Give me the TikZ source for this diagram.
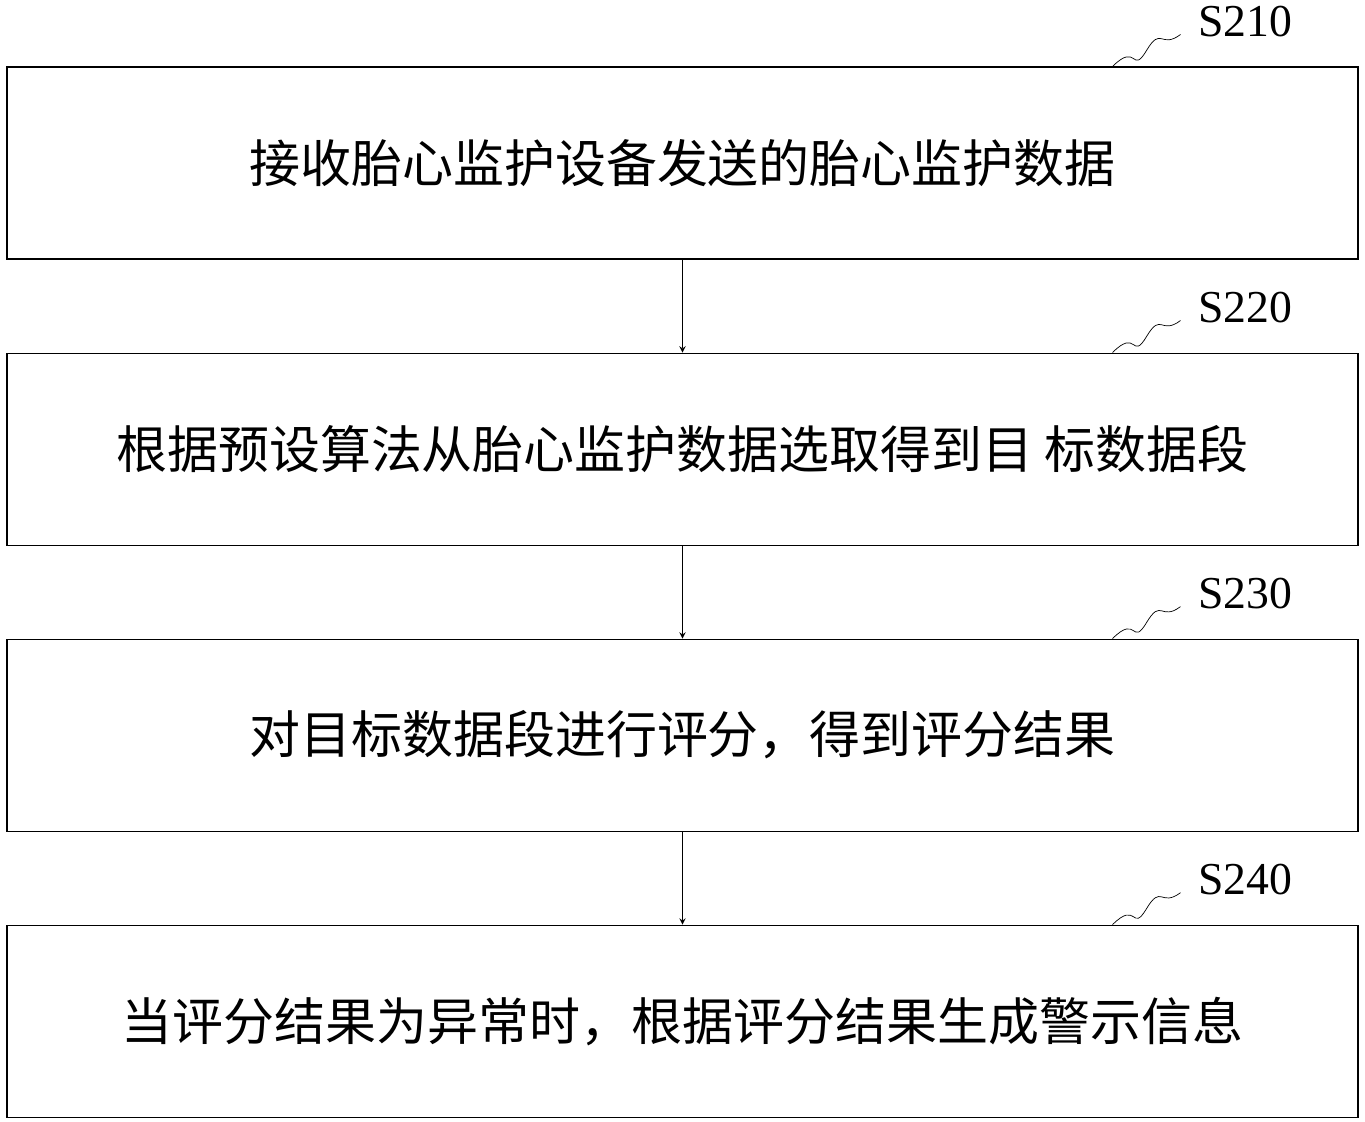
\documentclass[tikz,border=0pt]{standalone}
\usepackage{fontspec}
\setmainfont{Liberation Serif}
\newfontfamily\cjk{Noto Sans CJK SC}
\usetikzlibrary{positioning, arrows}

\begin{document}
\begin{tikzpicture}[
                > = stealth, % arrow head style
                node distance = 1.86cm, % gap between boxes
                semithick % line style
            ]

            \tikzstyle{stepbox}=[draw = black, rectangle, minimum width = 27.02cm,
            minimum height = 3.84cm, inner sep = 0pt, font = \cjk\fontsize{29}{34}\selectfont]
            \tikzstyle{tag}=[font = \fontsize{26}{30}\selectfont, inner sep = 0pt]

            \useasboundingbox (0,0) rectangle (27.3,-22.42);

            \node (s1) [stepbox] at (13.65,-3.26) {接收胎心监护设备发送的胎心监护数据};
            \node (s2) [stepbox, below=of s1] {根据预设算法从胎心监护数据选取得到目 标数据段};
            \node (s3) [stepbox, below=of s2] {对目标数据段进行评分，得到评分结果};
            \node (s4) [stepbox, below=of s3] {当评分结果为异常时，根据评分结果生成警示信息};

            \foreach \s/\t in {s1/S210, s2/S220, s3/S230, s4/S240} {
                \coordinate (\s a) at ([xshift=-4.92cm]\s.north east);
                \coordinate (\s b) at ([xshift=-3.56cm, yshift=0.64cm]\s.north east);
                \draw[thin] (\s a) .. controls +(0.5,0.5) and +(-0.3,-0.5) .. ([xshift=0.68cm,yshift=0.32cm]\s a)
                    .. controls +(0.3,0.5) and +(-0.4,-0.3) .. (\s b);
                \node (\s l) [tag] at ([xshift=-2.26cm, yshift=0.9cm]\s.north east) {\t};
            }

            \path[->] (s1) edge (s2); \path[->] (s2) edge (s3);
            \path[->] (s3) edge (s4);

\end{tikzpicture}
\end{document}
